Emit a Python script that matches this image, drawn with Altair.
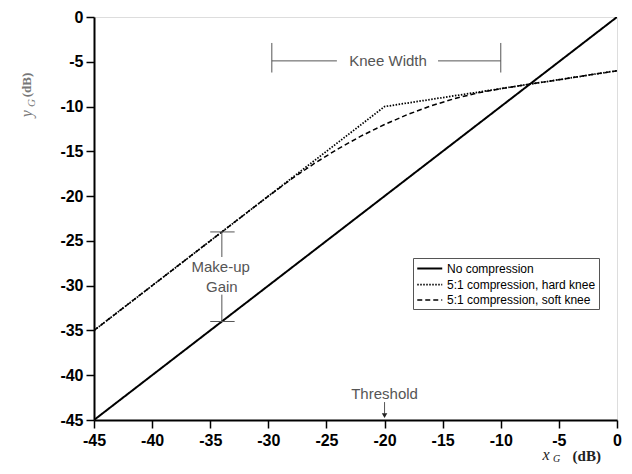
import altair as alt
import pandas as pd

# ---- data ----
series_names = ["No compression", "5:1 compression, hard knee", "5:1 compression, soft knee"]
none_x = [-45, 0]
none_y = [-45, 0]
hard_x = [-45, -20, 0]
hard_y = [-35, -10, -6]
soft_x = [-45, -30, -28, -26, -24, -22, -20, -18, -16, -14, -12, -10, 0]
soft_y = [-35, -20, -18.08, -16.32, -14.72, -13.28, -12, -10.88, -9.92, -9.12, -8.48, -8, -6]
x_ticks = [-45, -40, -35, -30, -25, -20, -15, -10, -5, 0]
y_ticks = [-45, -40, -35, -30, -25, -20, -15, -10, -5, 0]

rows = []
for name, xs_, ys_ in zip(series_names, [none_x, hard_x, soft_x], [none_y, hard_y, soft_y]):
    for i, (a, b) in enumerate(zip(xs_, ys_)):
        rows.append({"series": name, "x": a, "y": b, "order": i})
df = pd.DataFrame(rows)

XS = alt.Scale(domain=[-45, 0], nice=False, zero=False)
YS = alt.Scale(domain=[-45, 0], nice=False, zero=False)
X_AXIS = alt.Axis(values=x_ticks, title=None, grid=False, tickSize=8, tickWidth=1.5,
                  domainWidth=2, domainColor="black", tickColor="black",
                  labelFont="Liberation Sans", labelFontSize=16, labelFontWeight="bold",
                  labelColor="black", labelPadding=4, labelFlush=False,
                  labelExpr="datum.value + ''")
Y_AXIS = alt.Axis(values=y_ticks, title=None, grid=False, tickSize=8, tickWidth=1.5,
                  domainWidth=2, domainColor="black", tickColor="black",
                  labelFont="Liberation Sans", labelFontSize=16, labelFontWeight="bold",
                  labelColor="black", labelPadding=3, labelFlush=False,
                  labelExpr="datum.value + ''")


def xenc(field="x"):
    return alt.X(f"{field}:Q", scale=XS, axis=X_AXIS)


def yenc(field="y"):
    return alt.Y(f"{field}:Q", scale=YS, axis=Y_AXIS)


lines = alt.Chart(df).mark_line(color="black", clip=True).encode(
    x=xenc(),
    y=yenc(),
    order="order:Q",
    strokeDash=alt.StrokeDash(
        "series:N",
        scale=alt.Scale(domain=series_names, range=[[1, 0], [1.5, 1.5], [5, 3]]),
        legend=alt.Legend(
            title=None, orient="none", legendX=319, legendY=241,
            symbolType="M-1,0H3", symbolSize=156, symbolStrokeWidth=1.5,
            symbolStrokeColor="black", symbolFillColor="transparent",
            labelFont="Liberation Sans", labelFontSize=12, labelColor="black",
            labelOffset=16, rowPadding=2, padding=3, labelLimit=400,
            strokeColor="#555", fillColor="white",
        ),
    ),
    strokeWidth=alt.StrokeWidth(
        "series:N",
        scale=alt.Scale(domain=series_names, range=[2, 1.5, 2]),
        legend=None,
    ),
)

# ---- annotations (data coordinates) ----
ann_color = "#555555"

knee_seg = pd.DataFrame({"x": [-29.7, -15.4], "x2": [-24.1, -10.0], "y": [-4.9, -4.9]})
knee_caps = pd.DataFrame({"x": [-29.7, -10.0], "y": [-2.9, -2.9], "y2": [-6.2, -6.2]})
gain_seg = pd.DataFrame({"x": [-34.0, -34.0], "y": [-24.0, -31.0], "y2": [-26.8, -34.0]})
gain_caps = pd.DataFrame({"x": [-35.0, -35.0], "x2": [-32.9, -32.9], "y": [-24.0, -34.0]})
thr_seg = pd.DataFrame({"x": [-20.0], "y": [-43.0], "y2": [-44.3]})
thr_head = pd.DataFrame({"x": [-20.0], "y": [-44.5]})

labels = pd.DataFrame({
    "text": ["Knee Width", "Make-up", "Gain", "Threshold"],
    "x": [-19.7, -34.1, -34.0, -20.0],
    "y": [-4.9, -27.9, -30.1, -42.1],
})

hrules = [
    alt.Chart(d).mark_rule(color=ann_color, strokeWidth=1).encode(x=xenc(), x2="x2:Q", y=yenc())
    for d in (knee_seg, gain_caps)
]
vrules = [
    alt.Chart(d).mark_rule(color=ann_color, strokeWidth=1).encode(x=xenc(), y=yenc(), y2="y2:Q")
    for d in (knee_caps, gain_seg, thr_seg)
]
head = alt.Chart(thr_head).mark_point(shape="triangle-down", filled=True, color="#222", size=30, opacity=1).encode(
    x=xenc(), y=yenc())

texts = alt.Chart(labels).mark_text(font="Liberation Sans", fontSize=15, color=ann_color,
                                    align="center", baseline="middle").encode(
    x=xenc(), y=yenc(), text="text:N")

# ---- axis titles with subscripts ----
xt_main = pd.DataFrame({"t": ["x"], "x": [-6.1], "y": [-48.9]})
xt_sub = pd.DataFrame({"t": ["G"], "x": [-5.2], "y": [-49.4]})
xt_unit = pd.DataFrame({"t": ["(dB)"], "x": [-2.6], "y": [-49.0]})
yt_main = pd.DataFrame({"t": ["y"], "x": [-50.8], "y": [-10.8]})
yt_sub = pd.DataFrame({"t": ["G"], "x": [-50.35], "y": [-9.6]})
yt_unit = pd.DataFrame({"t": ["(dB)"], "x": [-50.8], "y": [-7.6]})


def ttext(d, size, style="normal", weight="normal", color="#222", angle=0):
    return alt.Chart(d).mark_text(font="Liberation Serif", fontSize=size, fontStyle=style,
                                  fontWeight=weight, color=color, angle=angle,
                                  align="center", baseline="middle").encode(
        x=xenc(), y=yenc(), text="t:N")


titles = [
    ttext(xt_main, 16, style="italic"),
    ttext(xt_sub, 10, style="italic"),
    ttext(xt_unit, 15, weight="bold"),
    ttext(yt_main, 16, style="italic", color="#777", angle=270),
    ttext(yt_sub, 11, style="italic", color="#777", angle=270),
    ttext(yt_unit, 13, weight="bold", color="#777", angle=270),
]

chart = alt.layer(lines, *hrules, *vrules, head, texts, *titles).properties(
    width=523, height=403,
    autosize=alt.AutoSizeParams(type="none"),
    padding={"left": 86, "top": 9, "right": 7, "bottom": 46},
).configure_view(stroke=None).configure(background="white")

chart.save("out.html", embed_options={"renderer": "svg", "actions": False})
